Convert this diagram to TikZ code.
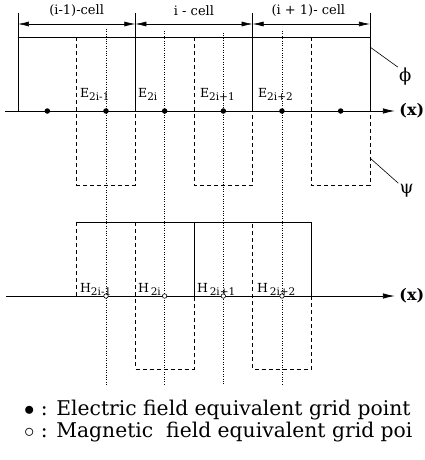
\documentclass[tikz,border=0pt]{standalone}
\usepackage{fontspec}
\setmainfont{DejaVu Serif}
\usetikzlibrary{arrows.meta,positioning}

\newcommand{\sublab}[2]{#1\raisebox{-0.5ex}{\fontsize{10.5}{11}\selectfont #2}}

\begin{document}
\begin{tikzpicture}[x=29.33pt, y=-1pt,
  phi/.style={line width=0.7pt},
  psi/.style={line width=0.7pt, dash pattern=on 4pt off 3pt},
  gridline/.style={line width=0.55pt, dash pattern=on 1pt off 1.4pt},
  axis/.style={line width=0.8pt, -{Latex[length=12pt,width=5.5pt]}},
  span/.style={line width=0.6pt, {Latex[length=11pt,width=5pt]}-{Latex[length=11pt,width=5pt]}},
  efield/.style={circle, fill, inner sep=0pt, minimum size=5.5pt},
  hfield/.style={circle, draw, fill=white, inner sep=0pt, minimum size=4.5pt, line width=0.6pt},
  cell/.style={font=\fontsize{13}{13}\selectfont, inner sep=0pt},
  pt/.style={font=\fontsize{12.5}{13}\selectfont, anchor=base west, inner sep=0pt},
  fn/.style={font=\fontsize{18}{18}\selectfont, inner sep=1pt},
  xlab/.style={font=\fontsize{16}{16}\selectfont\bfseries, anchor=west, inner sep=0pt},
  legend/.style={font=\fontsize{20.3}{21}\selectfont, anchor=base west, inner sep=0pt},
]
  \useasboundingbox (-0.6137,0) rectangle (13.876,460);

  % cells
  \foreach \k in {0,4,8,12} \draw[phi] (\k,13) -- (\k,111);
  \coordinate (s0) at (0,24);
  \coordinate (s1) at (4,24);
  \coordinate (s2) at (8,24);
  \coordinate (s3) at (12,24);
  \draw[span] (s0) -- (s1);
  \draw[span] (s1) -- (s2);
  \draw[span] (s2) -- (s3);
  \node[cell] (cl) at (2,11) {(i-1)-cell};
  \node[cell] (ci) at (6,11) {i - cell};
  \node[cell] (cr) at (9.9,11) {(i + 1)- cell};

  % upper functions
  \draw[phi] (0,37) -- (12,37);
  \draw[psi] (0,111) -- (0,37) -- (2,37) -- (2,185) -- (4,185) -- (4,37) -- (6,37) -- (6,185)
    -- (8,185) -- (8,37) -- (10,37) -- (10,185) -- (12,185) -- (12,111);

  % lower functions
  \draw[phi] (2,222) -- (10,222) -- (10,296);
  \draw[phi] (6,222) -- (6,296);
  \draw[psi] (2,296) -- (2,222) -- (4,222) -- (4,369) -- (6,369) -- (6,222) -- (8,222) -- (8,369)
    -- (10,369) -- (10,296);

  % grid points
  \foreach \k/\t in {3/29,5/31,7/33,9/31} \draw[gridline] (\k,\t) -- (\k,385);

  \coordinate (ea) at (-0.44,111);
  \coordinate (eb) at (12.85,111);
  \draw[axis] (ea) -- (eb);
  \coordinate (ha) at (-0.41,296);
  \coordinate (hb) at (12.85,296);
  \draw[axis] (ha) -- (hb);
  \node[xlab] (xe) at (13.0,111) {(x)};
  \node[xlab] (xh) at (13.0,296) {(x)};

  \foreach \k in {1,3,5,7,9,11} \node[efield] (e\k) at (\k,111) {};
  \foreach \k in {3,5,7,9} \node[hfield] (h\k) at (\k,296) {};

  \node[pt] (le1) at (2.11,97) {\sublab{E}{2i-1}};
  \node[pt] (le2) at (4.09,97) {\sublab{E}{2i}};
  \node[pt] (le3) at (6.2,97) {\sublab{E}{2i+1}};
  \node[pt] (le4) at (8.18,97) {\sublab{E}{2i+2}};
  \node[pt] (lh1) at (2.11,292) {\sublab{H}{2i-1}};
  \node[pt] (lh2) at (4.09,292) {\sublab{H}{\,2i}};
  \node[pt] (lh3) at (6.1,292) {\sublab{H}{\,2i+1}};
  \node[pt] (lh4) at (8.15,292) {\sublab{H}{\,2i+2}};

  % phi / psi labels
  \node[fn] (nphi) at (13.2,77) {ϕ};
  \node[fn] (npsi) at (13.25,191) {ψ};
  \coordinate (tphi) at (12,47);
  \coordinate (tpsi) at (12,158);
  \draw[line width=0.6pt] (tphi) -- (nphi.north west);
  \draw[line width=0.6pt] (tpsi) -- (npsi.north west);

  % legend
  \node[legend] (lg1) at (0.2,415) {$\bullet$ : Electric field equivalent grid point};
  \node[legend] (lg2) at (0.2,437) {$\circ$ : Magnetic\ \ field equivalent grid poi};
\end{tikzpicture}
\end{document}
